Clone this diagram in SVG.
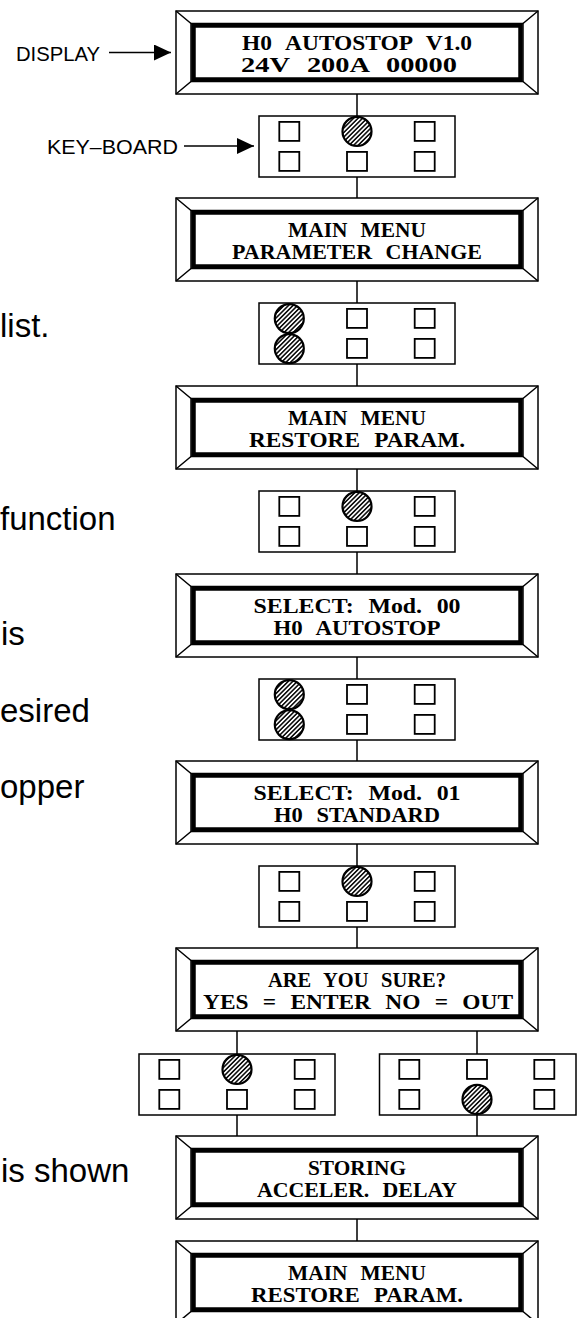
<svg xmlns="http://www.w3.org/2000/svg" xmlns:xlink="http://www.w3.org/1999/xlink" width="583" height="1318" viewBox="0 0 583 1318">
<style>
.thin{fill:none;stroke:#000;stroke-width:1.5}
.thick{fill:none;stroke:#000;stroke-width:4.5}
.kb{fill:#fff;stroke:#000;stroke-width:1.5}
.key{fill:#fff;stroke:#000;stroke-width:1.8}
.hk{fill:url(#hatch);stroke:#000;stroke-width:2.2}
.lcd{font-family:"Liberation Serif",serif;font-weight:bold;font-size:22px;text-anchor:middle;word-spacing:8px}
.lbl{font-family:"Liberation Sans",Arial,sans-serif;font-size:21px}
.side{font-family:"Liberation Sans",Arial,sans-serif;font-size:33px}
.conn{stroke:#000;stroke-width:1.5;fill:none}
</style>
<defs>
<pattern id="hatch" width="3.2" height="3.2" patternUnits="userSpaceOnUse" patternTransform="rotate(45)">
<rect width="3.2" height="3.2" fill="#fff"/>
<line x1="0.8" y1="0" x2="0.8" y2="3.2" stroke="#000" stroke-width="1.5"/>
</pattern>
<g id="frame">
<rect class="thin" x="176" y="0" width="362" height="83"/>
<rect class="thin" x="191" y="12.5" width="332" height="58"/>
<path class="thin" d="M176 0L191 12.5M538 0L523 12.5M176 83L191 70.5M538 83L523 70.5"/>
<rect class="thick" x="193.5" y="14.5" width="327" height="54"/>
</g>
<marker id="arr" markerWidth="17" markerHeight="16" refX="17" refY="8" orient="auto" markerUnits="userSpaceOnUse">
<path d="M0 0L17 8L0 16Z" fill="#000"/>
</marker>
</defs>
<rect width="583" height="1318" fill="#fff"/>

<g id="labels">
<text class="lbl" x="16" y="61" textLength="84" lengthAdjust="spacingAndGlyphs">DISPLAY</text>
<text class="lbl" x="47" y="154" textLength="131" lengthAdjust="spacingAndGlyphs">KEY–BOARD</text>
<text class="side" x="0" y="337">list.</text>
<text class="side" x="0" y="530">function</text>
<text class="side" x="1" y="645">is</text>
<text class="side" x="0" y="722">esired</text>
<text class="side" x="0" y="798">opper</text>
<text class="side" x="1" y="1182">is shown</text>
</g>

<g id="connectors">
<line class="conn" x1="109" y1="52.5" x2="171" y2="52.5" marker-end="url(#arr)"/>
<line class="conn" x1="184" y1="146" x2="254" y2="146" marker-end="url(#arr)"/>
<path class="conn" d="M357 94V116M357 177V198M357 281V303M357 364V386M357 469V491M357 552V574M357 657V679M357 740V761M357 844V866M357 927V948M237 1031V1054M477 1031V1054M237 1115V1136M477 1115V1136M357 1219V1241"/>
</g>

<g id="d1"><use xlink:href="#frame" y="11"/>
<text class="lcd" x="357" y="49.5" textLength="230" lengthAdjust="spacingAndGlyphs">H0 AUTOSTOP V1.0</text>
<text class="lcd" x="349" y="72" textLength="216" lengthAdjust="spacingAndGlyphs">24V 200A 00000</text></g>

<g id="k1"><rect class="kb" x="259" y="116" width="196" height="61"/>
<rect class="key" x="279.3" y="121.9" width="20" height="19"/><circle class="hk" cx="357" cy="131.4" r="14.5"/><rect class="key" x="414.7" y="121.9" width="20" height="19"/>
<rect class="key" x="279.3" y="151.9" width="20" height="19"/><rect class="key" x="347" y="151.9" width="20" height="19"/><rect class="key" x="414.7" y="151.9" width="20" height="19"/></g>

<g id="d2"><use xlink:href="#frame" y="198"/>
<text class="lcd" x="357" y="236.5" textLength="138" lengthAdjust="spacingAndGlyphs">MAIN MENU</text>
<text class="lcd" x="357" y="259" textLength="250" lengthAdjust="spacingAndGlyphs">PARAMETER CHANGE</text></g>

<g id="k2"><rect class="kb" x="259" y="303" width="196" height="61"/>
<circle class="hk" cx="289.3" cy="318.6" r="14.5"/><rect class="key" x="347" y="308.9" width="20" height="19"/><rect class="key" x="414.7" y="308.9" width="20" height="19"/>
<circle class="hk" cx="289.3" cy="348.6" r="14.5"/><rect class="key" x="347" y="338.9" width="20" height="19"/><rect class="key" x="414.7" y="338.9" width="20" height="19"/></g>

<g id="d3"><use xlink:href="#frame" y="386"/>
<text class="lcd" x="357" y="424.5" textLength="138" lengthAdjust="spacingAndGlyphs">MAIN MENU</text>
<text class="lcd" x="357" y="447" textLength="216" lengthAdjust="spacingAndGlyphs">RESTORE PARAM.</text></g>

<g id="k3"><rect class="kb" x="259" y="491" width="196" height="61"/>
<rect class="key" x="279.3" y="496.9" width="20" height="19"/><circle class="hk" cx="357" cy="506.4" r="14.5"/><rect class="key" x="414.7" y="496.9" width="20" height="19"/>
<rect class="key" x="279.3" y="526.9" width="20" height="19"/><rect class="key" x="347" y="526.9" width="20" height="19"/><rect class="key" x="414.7" y="526.9" width="20" height="19"/></g>

<g id="d4"><use xlink:href="#frame" y="574"/>
<text class="lcd" x="357" y="612.5" textLength="207" lengthAdjust="spacingAndGlyphs">SELECT: Mod. 00</text>
<text class="lcd" x="357" y="635" textLength="167" lengthAdjust="spacingAndGlyphs">H0 AUTOSTOP</text></g>

<g id="k4"><rect class="kb" x="259" y="679" width="196" height="61"/>
<circle class="hk" cx="289.3" cy="694.6" r="14.5"/><rect class="key" x="347" y="684.9" width="20" height="19"/><rect class="key" x="414.7" y="684.9" width="20" height="19"/>
<circle class="hk" cx="289.3" cy="724.6" r="14.5"/><rect class="key" x="347" y="714.9" width="20" height="19"/><rect class="key" x="414.7" y="714.9" width="20" height="19"/></g>

<g id="d5"><use xlink:href="#frame" y="761"/>
<text class="lcd" x="357" y="799.5" textLength="207" lengthAdjust="spacingAndGlyphs">SELECT: Mod. 01</text>
<text class="lcd" x="357" y="822" textLength="166" lengthAdjust="spacingAndGlyphs">H0 STANDARD</text></g>

<g id="k5"><rect class="kb" x="259" y="866" width="196" height="61"/>
<rect class="key" x="279.3" y="871.9" width="20" height="19"/><circle class="hk" cx="357" cy="881.4" r="14.5"/><rect class="key" x="414.7" y="871.9" width="20" height="19"/>
<rect class="key" x="279.3" y="901.9" width="20" height="19"/><rect class="key" x="347" y="901.9" width="20" height="19"/><rect class="key" x="414.7" y="901.9" width="20" height="19"/></g>

<g id="d6"><use xlink:href="#frame" y="948"/>
<text class="lcd" x="357" y="986.5" textLength="178" lengthAdjust="spacingAndGlyphs">ARE YOU SURE?</text>
<text class="lcd" x="358" y="1009" textLength="310" lengthAdjust="spacingAndGlyphs">YES = ENTER NO = OUT</text></g>

<g id="k6a"><rect class="kb" x="139" y="1054" width="196" height="61"/>
<rect class="key" x="159.3" y="1059.9" width="20" height="19"/><circle class="hk" cx="237" cy="1069.4" r="14.5"/><rect class="key" x="294.7" y="1059.9" width="20" height="19"/>
<rect class="key" x="159.3" y="1089.9" width="20" height="19"/><rect class="key" x="227" y="1089.9" width="20" height="19"/><rect class="key" x="294.7" y="1089.9" width="20" height="19"/></g>

<g id="k6b"><rect class="kb" x="379.5" y="1054" width="196.5" height="61"/>
<rect class="key" x="399.3" y="1059.9" width="20" height="19"/><rect class="key" x="467" y="1059.9" width="20" height="19"/><rect class="key" x="534.3" y="1059.9" width="20" height="19"/>
<rect class="key" x="399.3" y="1089.9" width="20" height="19"/><circle class="hk" cx="477" cy="1099.4" r="14.5"/><rect class="key" x="534.3" y="1089.9" width="20" height="19"/></g>

<g id="d7"><use xlink:href="#frame" y="1136"/>
<text class="lcd" x="357" y="1174.5" textLength="98" lengthAdjust="spacingAndGlyphs">STORING</text>
<text class="lcd" x="357" y="1197" textLength="200" lengthAdjust="spacingAndGlyphs">ACCELER. DELAY</text></g>

<g id="d8"><use xlink:href="#frame" y="1241"/>
<text class="lcd" x="357" y="1279.5" textLength="138" lengthAdjust="spacingAndGlyphs">MAIN MENU</text>
<text class="lcd" x="357" y="1302" textLength="212" lengthAdjust="spacingAndGlyphs">RESTORE PARAM.</text></g>
</svg>
